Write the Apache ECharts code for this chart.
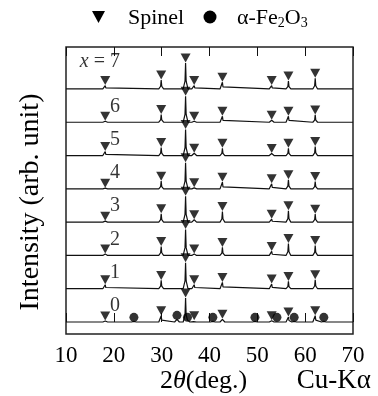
<!DOCTYPE html>
<html><head><meta charset="utf-8">
<script src="https://cdn.jsdelivr.net/npm/echarts@6/dist/echarts.min.js"></script>
<style>html,body{margin:0;padding:0;background:#fff}#c{width:378px;height:396px}</style>
</head><body><div id="c"></div>
<script>
// ---- data ----
const xTickValues = [10, 20, 30, 40, 50, 60, 70];
const sampleNames = ['0', '1', '2', '3', '4', '5', '6', '7'];
const spinelPos = [18.2, 29.9, 35.0, 36.8, 42.7, 53.0, 56.5, 62.1];
const spinelH0 = [0.03, 0.19, 0.72, 0.04, 0.08, 0.04, 0.15, 0.19];
const spinelH1 = [0.12, 0.25, 0.78, 0.12, 0.19, 0.14, 0.22, 0.27];
const spinelH2 = [0.04, 0.27, 0.78, 0.04, 0.24, 0.12, 0.36, 0.30];
const spinelH3 = [0.03, 0.25, 0.78, 0.07, 0.32, 0.09, 0.34, 0.24];
const spinelH4 = [0.02, 0.23, 0.78, 0.03, 0.20, 0.15, 0.27, 0.22];
const spinelH5 = [0.12, 0.24, 0.78, 0.07, 0.22, 0.06, 0.22, 0.27];
const spinelH6 = [0.03, 0.23, 0.78, 0.03, 0.18, 0.06, 0.18, 0.22];
const spinelH7 = [0.10, 0.27, 0.78, 0.10, 0.20, 0.10, 0.24, 0.32];
const hematitePos = [24.2, 33.2, 35.4, 40.7, 49.5, 54.1, 57.7, 63.9];
const hematiteH0 = [0.02, 0.08, 0.02, 0.02, 0.02, 0.02, 0.02, 0.02];

// ---- build ----
const spinelH = [spinelH0, spinelH1, spinelH2, spinelH3, spinelH4, spinelH5, spinelH6, spinelH7];
const xMin = xTickValues[0], xMax = xTickValues[xTickValues.length - 1];
function shape(d) {
  const a = Math.abs(d);
  if (a >= 0.5) return 0;
  if (a >= 0.12) return 0.3 * (0.5 - a) / 0.38;
  return 0.3 + 0.7 * (0.12 - a) / 0.12;
}
function profile(peaks, base) {
  const xs = new Set([xMin, xMax]);
  peaks.forEach(([p]) => [-0.5, -0.12, 0, 0.12, 0.5].forEach(d => xs.add(+(p + d).toFixed(3))));
  return [...xs].sort((a, b) => a - b).map(x => [x, base + Math.max(0, ...peaks.map(([p, h]) => shape(x - p) * h))]);
}
const series = [];
const spinelMarks = [], hemMarks = [], labelPts = [];
sampleNames.forEach((name, i) => {
  const peaks = spinelPos.map((p, k) => [p, spinelH[i][k]]);
  spinelPos.forEach((p, k) => spinelMarks.push([p, i + spinelH[i][k]]));
  if (i === 0) {
    hematitePos.forEach((p, k) => { peaks.push([p, hematiteH0[k]]); hemMarks.push([p, hematiteH0[k]]); });
  }
  series.push({
    type: 'line', data: profile(peaks, i), symbol: 'none', silent: true, smooth: false,
    lineStyle: { color: '#111', width: 1.2 }, z: 2
  });
  labelPts.push({ value: i === 7 ? [12.9, i + 0.81] : [19.2, i + 0.48], name: i === 7 ? '{i|x} = 7' : name });
});
series.push({
  type: 'scatter', data: spinelMarks, symbol: 'path://M0,0L10,0L5,9Z', symbolSize: [10, 9],
  symbolOffset: [0, -5], itemStyle: { color: '#000' }, z: 5, silent: true
});
series.push({
  type: 'scatter', data: hemMarks, symbol: 'circle', symbolSize: 9,
  symbolOffset: [0, -4], itemStyle: { color: '#000' }, z: 5, silent: true
});
series.push({
  type: 'scatter', data: labelPts, symbolSize: 0, silent: true, z: 6,
  label: {
    show: true, position: 'right', distance: 0, formatter: p => p.name,
    fontFamily: 'Liberation Serif', fontSize: 20, color: '#000',
    rich: { i: { fontFamily: 'Liberation Serif', fontSize: 20, fontStyle: 'italic', color: '#000' } }
  }
});

const serif = 'Liberation Serif';
const chart = echarts.init(document.getElementById('c'), null, { renderer: 'canvas' });
chart.setOption({
  animation: false,
  backgroundColor: '#fff',
  grid: { left: 66, right: 25, top: 47, bottom: 62, show: true, borderColor: '#222', borderWidth: 1.5, backgroundColor: 'transparent' },
  xAxis: [{
    type: 'value', min: xMin, max: xMax, interval: 10, position: 'bottom',
    axisLine: { show: false }, splitLine: { show: false },
    axisTick: { show: true, inside: true, length: 9, lineStyle: { color: '#111', width: 1 } },
    axisLabel: { fontFamily: serif, fontSize: 23, color: '#000', margin: 10 }
  }, {
    type: 'value', min: xMin, max: xMax, interval: 10, position: 'top',
    axisLine: { show: false }, splitLine: { show: false },
    axisTick: { show: true, inside: true, length: 9, lineStyle: { color: '#111', width: 1 } },
    axisLabel: { show: false }
  }],
  yAxis: {
    type: 'value', min: -0.36, max: 8.26,
    axisLine: { show: false }, axisTick: { show: false }, axisLabel: { show: false }, splitLine: { show: false }
  },
  series,
  graphic: [
    { type: 'polygon', shape: { points: [[92, 11], [105, 11], [98.5, 23]] }, style: { fill: '#000' } },
    { type: 'text', x: 128, y: 18, style: { text: 'Spinel', font: '22px "Liberation Serif"', fill: '#000', verticalAlign: 'middle' } },
    { type: 'circle', shape: { cx: 210, cy: 17, r: 6.5 }, style: { fill: '#000' } },
    { type: 'text', x: 237, y: 18, style: {
      text: 'α-Fe{s|2}O{s|3}', font: '22px "Liberation Serif"', fill: '#000', verticalAlign: 'middle',
      rich: { s: { fontFamily: serif, fontSize: 14, verticalAlign: 'bottom', padding: [10, 0, 0, 0], fill: '#000' } }
    } },
    { type: 'text', x: 31, y: 202, rotation: Math.PI / 2, style: {
      text: 'Intensity (arb. unit)', font: '28px "Liberation Serif"', fill: '#000', align: 'center', verticalAlign: 'middle'
    } },
    { type: 'text', x: 160, y: 381, style: {
      text: '2{t|θ}(deg.)', font: '26px "Liberation Serif"', fill: '#000', align: 'left', verticalAlign: 'middle',
      rich: { t: { fontFamily: serif, fontSize: 26, fontStyle: 'italic', fill: '#000' } }
    } },
    { type: 'text', x: 371, y: 381, style: {
      text: 'Cu-Kα', font: '27px "Liberation Serif"', fill: '#000', align: 'right', verticalAlign: 'middle'
    } }
  ]
});
</script></body></html>
